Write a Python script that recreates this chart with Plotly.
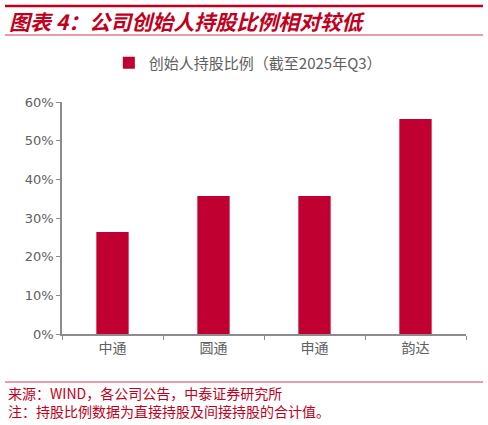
import plotly.graph_objects as go

companies = ["中通", "圆通", "申通", "韵达"]
founder_share = [0.264, 0.357, 0.357, 0.556]
y_ticks = [0, 0.1, 0.2, 0.3, 0.4, 0.5, 0.6]
y_tick_labels = ["0%", "10%", "20%", "30%", "40%", "50%", "60%"]

RED = "#C00030"
GRAY = "#606060"
FONT = "Noto Sans CJK SC"

# plot area in pixels: x 62..466, y 102..334
L, R, T, B = 62, 22, 102, 91
PW, PH = 488 - L - R, 425 - T - B


def px_x(x):
    return (x - L) / PW


def px_y(y):
    return (425 - B - y) / PH


positions = list(range(len(companies)))

fig = go.Figure()
fig.add_trace(
    go.Bar(
        x=positions,
        y=founder_share,
        width=0.32,
        marker=dict(color=RED, line=dict(width=0)),
        name="创始人持股比例（截至2025年Q3）",
        showlegend=True,
    )
)

shapes = [
    dict(type="line", xref="paper", yref="paper", x0=px_x(5), x1=px_x(483),
         y0=px_y(6), y1=px_y(6), line=dict(color="#C00020", width=2.5)),
    dict(type="line", xref="paper", yref="paper", x0=px_x(5), x1=px_x(483),
         y0=px_y(35), y1=px_y(35), line=dict(color="#D04050", width=1.2)),
    dict(type="line", xref="paper", yref="paper", x0=px_x(5), x1=px_x(483),
         y0=px_y(382), y1=px_y(382), line=dict(color="#D04050", width=1.2)),
]

annotations = [
    dict(text="<b><i>图表 4：公司创始人持股比例相对较低</i></b>", xref="paper", yref="paper",
         x=px_x(7), y=px_y(21), xanchor="left", yanchor="middle", showarrow=False,
         font=dict(family=FONT, size=21, color="#C00020")),
    dict(text="来源：WIND，各公司公告，中泰证券研究所", xref="paper", yref="paper",
         x=px_x(6), y=px_y(393), xanchor="left", yanchor="middle", showarrow=False,
         font=dict(family=FONT, size=14, color="#C00020")),
    dict(text="注：持股比例数据为直接持股及间接持股的合计值。", xref="paper", yref="paper",
         x=px_x(6), y=px_y(411), xanchor="left", yanchor="middle", showarrow=False,
         font=dict(family=FONT, size=14, color="#C00020")),
]

fig.update_layout(
    width=488,
    height=425,
    margin=dict(l=L, r=R, t=T, b=B),
    paper_bgcolor="white",
    plot_bgcolor="white",
    font=dict(family=FONT, size=13, color=GRAY),
    shapes=shapes,
    annotations=annotations,
    legend=dict(
        orientation="h",
        x=0.46,
        xanchor="center",
        y=px_y(63),
        yanchor="middle",
        font=dict(family=FONT, size=15, color=GRAY),
        itemwidth=30,
    ),
)

fig.update_xaxes(
    range=[-0.5, 3.5],
    tickvals=positions,
    ticktext=companies,
    ticks="",
    showline=True,
    linecolor="#8C8C8C",
    linewidth=1.5,
    showgrid=False,
    zeroline=False,
    tickfont=dict(family=FONT, size=14, color=GRAY),
    minor=dict(tick0=-0.5, dtick=1, ticks="outside", ticklen=4, tickcolor="#8C8C8C"),
    fixedrange=True,
)

fig.update_yaxes(
    range=[0, 0.6],
    tickvals=y_ticks,
    ticktext=y_tick_labels,
    ticks="outside",
    ticklen=4,
    tickcolor="#8C8C8C",
    showline=True,
    linecolor="#8C8C8C",
    linewidth=1.5,
    showgrid=False,
    zeroline=False,
    tickfont=dict(family="DejaVu Sans", size=13, color=GRAY),
    fixedrange=True,
)

fig.write_html(
    "out.html",
    config={"displayModeBar": False},
    post_script="document.body.style.margin='0';",
)
